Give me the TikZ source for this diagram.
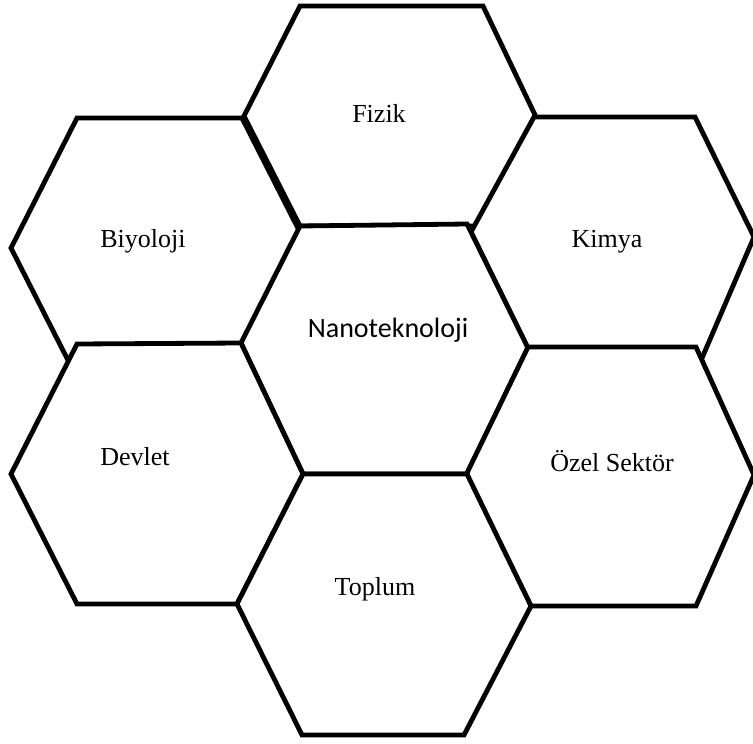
\documentclass[tikz,border=0pt]{standalone}
\usepackage{fontspec}
\setmainfont{Liberation Serif}
\newfontfamily\calibrifont{Carlito}

\begin{document}
\begin{tikzpicture}[x=0.5pt, y=-0.5pt,
    cell/.style={draw=black, fill=white, line width=2.4pt},
    celltext/.style={anchor=base, inner sep=0pt, font=\fontsize{13}{15}\selectfont}]
\useasboundingbox (0,0) rectangle (753,743);
% hexagons, back to front
\path[cell] (11,248) -- (77,118) -- (242,118) -- (308,248) -- (242,378) -- (77,378) -- cycle;
\path[cell] (244,116) -- (300,6) -- (483,6) -- (536,117) -- (483,226) -- (300,226) -- cycle;
\path[cell] (471,232) -- (534,117) -- (695,117) -- (754,237) -- (699,365) -- (536,365) -- cycle;
\path[cell] (241,343) -- (300,226) -- (467,224) -- (528,348) -- (467,474) -- (303,474) -- cycle;
\path[cell] (11,474) -- (77,344) -- (241,343) -- (303,474) -- (237,604) -- (77,604) -- cycle;
\path[cell] (466,475) -- (528,347) -- (696,347) -- (754,475) -- (696,606) -- (531,606) -- cycle;
\path[cell] (237,604) -- (303,474) -- (467,474) -- (531,606) -- (464,735) -- (302,735) -- cycle;
% labels
\node[celltext] (fizik) at (379,123) {Fizik};
\node[celltext] (biyoloji) at (143,247) {Biyoloji};
\node[celltext] (kimya) at (607,247) {Kimya};
\node[celltext, font=\calibrifont\fontsize{14}{16}\selectfont] (nano) at (388,337) {Nanoteknoloji};
\node[celltext] (devlet) at (135,465) {Devlet};
\node[celltext] (ozel) at (612,471) {Özel Sektör};
\node[celltext] (toplum) at (375,595) {Toplum};
\end{tikzpicture}
\end{document}
